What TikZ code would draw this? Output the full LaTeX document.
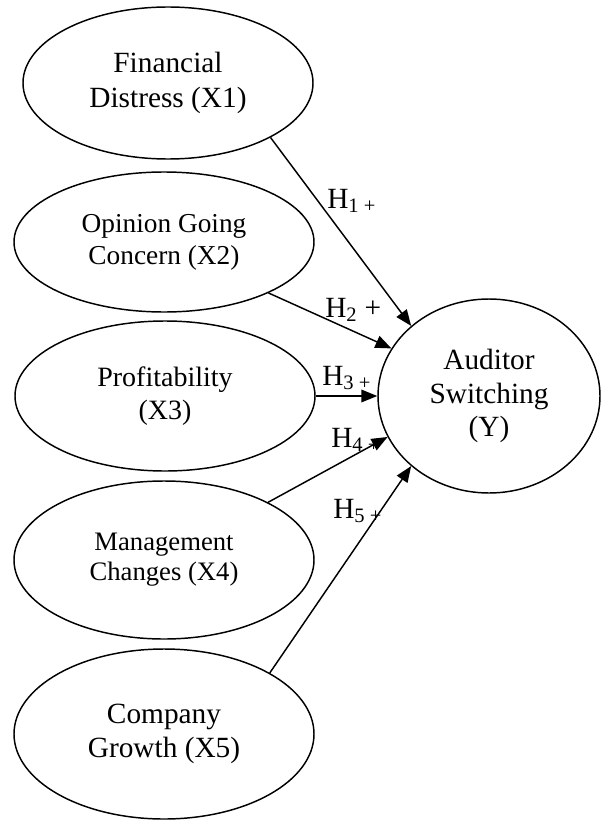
\documentclass[tikz,border=0pt]{standalone}
\usepackage{fontspec}
\setmainfont{Liberation Serif}
\usetikzlibrary{shapes.geometric,arrows.meta}
\begin{document}
\begin{tikzpicture}[x=0.75pt,y=-0.75pt,
  ell/.style={ellipse,draw,line width=1.1pt,inner sep=0pt,align=center},
  big/.style={font=\fontsize{22}{26}\selectfont},
  small/.style={font=\fontsize{20.5}{24}\selectfont},
  link/.style={line width=1.1pt,-{Triangle[length=12pt,width=9.5pt]}},
  hlab/.style={anchor=base west,inner sep=0pt,font=\fontsize{22}{26}\selectfont}]
\useasboundingbox (0,0) rectangle (601,820);
\node[ell,big,minimum width=217.5pt,minimum height=114pt] (E1) at (168,83) {Financial\\Distress (X1)};
\node[ell,small,minimum width=225pt,minimum height=105pt] (E2) at (164,242) {Opinion Going\\Concern (X2)};
\node[ell,font=\fontsize{21}{25}\selectfont,minimum width=225pt,minimum height=112.5pt] (E3) at (165,396) {Profitability\\(X3)};
\node[ell,font=\fontsize{20}{22.5}\selectfont,minimum width=225pt,minimum height=118.5pt] (E4) at (164,560) {Management\\Changes (X4)};
\node[ell,big,minimum width=225pt,minimum height=127.5pt] (E5) at (164,734) {Company\\Growth (X5)};
\node[ell,font=\fontsize{22}{25}\selectfont,minimum width=166.5pt,minimum height=145.5pt] (Y) at (489,396) {Auditor\\Switching\\(Y)};
\draw[link] (E1.-28) -- (Y.138);
\draw[link] (E2.-26) -- (Y.154);
\draw[link] (E3.east) -- (Y.west);
\draw[link] (E4.29) -- (Y.202.5);
\draw[link] (E5.30) -- (Y.222.5);
\node[hlab] (h1) at (327,208) {H\textsubscript{1 +}};
\node[hlab] (h2) at (325,317) {H\textsubscript{2} +};
\node[hlab] (h3) at (322,385) {H\textsubscript{3 +}};
\node[hlab] (h4) at (331,447) {H\textsubscript{4 +}};
\node[hlab] (h5) at (333,518) {H\textsubscript{5 +}};
\end{tikzpicture}
\end{document}
